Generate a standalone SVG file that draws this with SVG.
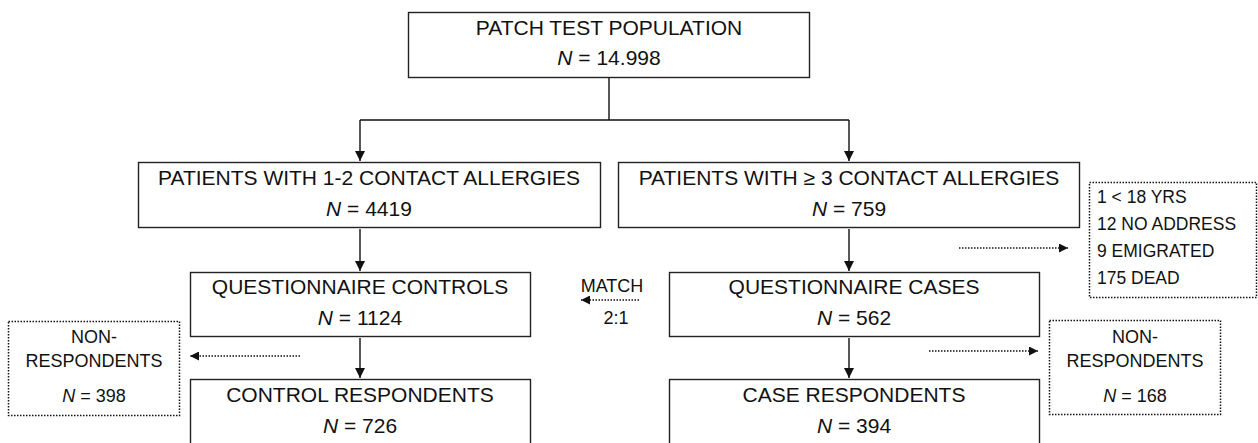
<svg xmlns="http://www.w3.org/2000/svg" width="1258" height="443" viewBox="0 0 1258 443">
<style>
.box{fill:#fff;stroke:#222;stroke-width:1.4}
.dbox{fill:#fff;stroke:#111;stroke-width:1.5;stroke-dasharray:1.5 1.5}
.t{font-family:"Liberation Sans",Arial,sans-serif;font-size:21px;fill:#111;text-anchor:middle}
.s{font-family:"Liberation Sans",Arial,sans-serif;font-size:18px;fill:#111;text-anchor:middle}
.sl{font-family:"Liberation Sans",Arial,sans-serif;font-size:17.5px;fill:#111}
.ln{fill:none;stroke:#111;stroke-width:1.4}
.dl{fill:none;stroke:#111;stroke-width:1.5;stroke-dasharray:1.5 1.5}
</style>
<defs>
<marker id="ah" viewBox="0 0 10 10" refX="10" refY="5" markerWidth="10" markerHeight="10" markerUnits="userSpaceOnUse" orient="auto"><path d="M0,0 L10,5 L0,10 z" fill="#111"/></marker>
<marker id="dh" viewBox="0 0 10 10" refX="10" refY="5" markerWidth="9" markerHeight="9" markerUnits="userSpaceOnUse" orient="auto"><path d="M0,0 L10,5 L0,10 z" fill="#111"/></marker>
</defs>
<g id="connectors">
<path class="ln" d="M609,78 V120 M360,120 H849"/>
<path class="ln" d="M360,120 V161" marker-end="url(#ah)"/>
<path class="ln" d="M849,120 V161" marker-end="url(#ah)"/>
<path class="ln" d="M360,229 V271" marker-end="url(#ah)"/>
<path class="ln" d="M849,229 V271" marker-end="url(#ah)"/>
<path class="ln" d="M360,338 V378" marker-end="url(#ah)"/>
<path class="ln" d="M849,338 V378" marker-end="url(#ah)"/>
<path class="dl" d="M300,356 H190" marker-end="url(#dh)"/>
<path class="dl" d="M639,300 H581" marker-end="url(#dh)"/>
<path class="dl" d="M959,248 H1068" marker-end="url(#dh)"/>
<path class="dl" d="M929,351 H1038" marker-end="url(#dh)"/>
</g>
<g id="n-population">
<rect class="box" x="408.5" y="12.5" width="401" height="65"/>
<text class="t" x="609" y="35">PATCH TEST POPULATION</text>
<text class="t" x="609" y="65"><tspan font-style="italic">N</tspan> = 14.998</text>
</g>
<g id="n-allergy12">
<rect class="box" x="138.5" y="162.5" width="462" height="65"/>
<text class="t" x="369" y="185">PATIENTS WITH 1-2 CONTACT ALLERGIES</text>
<text class="t" x="369" y="216"><tspan font-style="italic">N</tspan> = 4419</text>
</g>
<g id="n-allergy3">
<rect class="box" x="618.5" y="162.5" width="461" height="65"/>
<text class="t" x="849" y="185">PATIENTS WITH ≥ 3 CONTACT ALLERGIES</text>
<text class="t" x="849" y="216"><tspan font-style="italic">N</tspan> = 759</text>
</g>
<g id="n-exclusions">
<rect class="dbox" x="1089.5" y="182.5" width="167" height="115"/>
<text class="sl" x="1097" y="203">1 &lt; 18 YRS</text>
<text class="sl" x="1097" y="230">12 NO ADDRESS</text>
<text class="sl" x="1097" y="257">9 EMIGRATED</text>
<text class="sl" x="1097" y="284">175 DEAD</text>
</g>
<g id="n-qcontrols">
<rect class="box" x="190.5" y="272.5" width="340" height="64"/>
<text class="t" x="360" y="294">QUESTIONNAIRE CONTROLS</text>
<text class="t" x="360" y="325"><tspan font-style="italic">N</tspan> = 1124</text>
</g>
<g id="n-qcases">
<rect class="box" x="669.5" y="272.5" width="370" height="64"/>
<text class="t" x="854" y="294">QUESTIONNAIRE CASES</text>
<text class="t" x="854" y="325"><tspan font-style="italic">N</tspan> = 562</text>
</g>
<g id="n-match">
<text class="s" x="612" y="292" font-size="19">MATCH</text>
<text class="s" x="616" y="324" font-size="19">2:1</text>
</g>
<g id="n-nonresp-left">
<rect class="dbox" x="8.5" y="321.5" width="171" height="94"/>
<text class="s" x="94" y="343">NON-</text>
<text class="s" x="94" y="367">RESPONDENTS</text>
<text class="s" x="94" y="402"><tspan font-style="italic">N</tspan> = 398</text>
</g>
<g id="n-nonresp-right">
<rect class="dbox" x="1049.5" y="320.5" width="171" height="94"/>
<text class="s" x="1135" y="343">NON-</text>
<text class="s" x="1135" y="367">RESPONDENTS</text>
<text class="s" x="1135" y="402"><tspan font-style="italic">N</tspan> = 168</text>
</g>
<g id="n-controlresp">
<rect class="box" x="190.5" y="379.5" width="340" height="70"/>
<text class="t" x="360" y="402">CONTROL RESPONDENTS</text>
<text class="t" x="360" y="433"><tspan font-style="italic">N</tspan> = 726</text>
</g>
<g id="n-caseresp">
<rect class="box" x="669.5" y="379.5" width="370" height="70"/>
<text class="t" x="854" y="402">CASE RESPONDENTS</text>
<text class="t" x="854" y="433"><tspan font-style="italic">N</tspan> = 394</text>
</g>
</svg>
